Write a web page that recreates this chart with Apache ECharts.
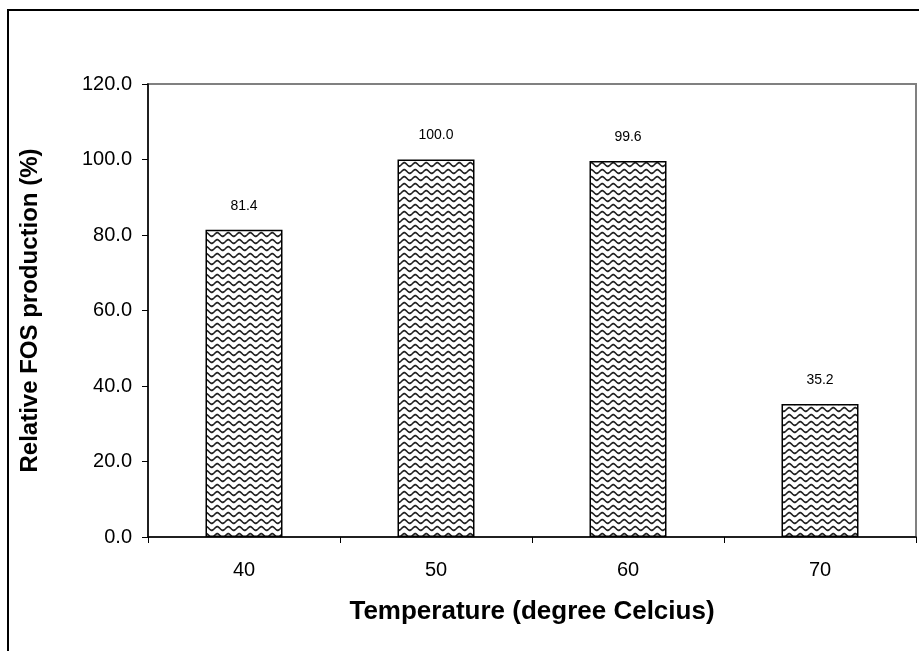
<!DOCTYPE html>
<html>
<head>
<meta charset="utf-8">
<script src="https://cdn.jsdelivr.net/npm/echarts@6/dist/echarts.min.js"></script>
<style>
  html, body { margin: 0; padding: 0; background: #fff; }
  #chart { width: 919px; height: 651px; }
</style>
</head>
<body>
<div id="chart"></div>
<script>
// categories and values
var temperatures = ['40', '50', '60', '70'];
var relativeFOS = [81.4, 100.0, 99.6, 35.2];

// wavy fill pattern for the bars
function makeWavePattern() {
	var c = document.createElement('canvas');
	c.width = 11;
	c.height = 7;
	var ctx = c.getContext('2d');
	ctx.fillStyle = '#fff';
	ctx.fillRect(0, 0, 11, 7);
	ctx.strokeStyle = '#222';
	ctx.lineWidth = 1.7;
	ctx.beginPath();
	for (var x = -1; x <= 12; x += 0.5) {
		var y = 3.5 + 1.8 * Math.sin(x / 11 * Math.PI * 2);
		if (x === -1) ctx.moveTo(x, y); else ctx.lineTo(x, y);
	}
	ctx.stroke();
	return c;
}

var myChart = echarts.init(document.getElementById('chart'));
var option = {
	backgroundColor: '#fff',
	animation: false,
	textStyle: { fontFamily: 'Liberation Sans, Arial, sans-serif' },
	graphic: [{
		type: 'rect',
		shape: { x: 8, y: 10, width: 1000, height: 1000 },
		style: { fill: 'none', stroke: '#000', lineWidth: 2 },
		silent: true
	}],
	grid: {
		left: 148,
		top: 84,
		right: 3,
		bottom: 114,
		show: true,
		borderColor: '#808080',
		borderWidth: 2
	},
	xAxis: {
		type: 'category',
		data: temperatures,
		name: 'Temperature (degree Celcius)',
		nameLocation: 'middle',
		nameGap: 62,
		nameTextStyle: { fontSize: 26, fontWeight: 'bold', color: '#000' },
		axisLine: { lineStyle: { color: '#000', width: 1.5 } },
		axisTick: { show: true, length: 6, lineStyle: { color: '#000' } },
		axisLabel: { fontSize: 20, color: '#000', margin: 23 }
	},
	yAxis: {
		type: 'value',
		min: 0,
		max: 120,
		interval: 20,
		name: 'Relative FOS production (%)',
		nameLocation: 'middle',
		nameGap: 106,
		nameTextStyle: { fontSize: 24, fontWeight: 'bold', color: '#000' },
		axisLine: { show: true, lineStyle: { color: '#000', width: 1.5 } },
		axisTick: { show: true, length: 6, lineStyle: { color: '#000' } },
		splitLine: { show: false },
		axisLabel: {
			fontSize: 20,
			color: '#000',
			margin: 16,
			formatter: function (v) { return v.toFixed(1); }
		}
	},
	series: [{
		type: 'bar',
		data: relativeFOS,
		barWidth: 77,
		itemStyle: {
			color: { image: makeWavePattern(), repeat: 'repeat' },
			borderColor: '#000',
			borderWidth: 1.5
		},
		label: {
			show: true,
			position: 'top',
			distance: 17,
			fontSize: 14,
			color: '#000',
			formatter: function (p) { return p.value.toFixed(1); }
		}
	}]
};
myChart.setOption(option);
</script>
</body>
</html>
